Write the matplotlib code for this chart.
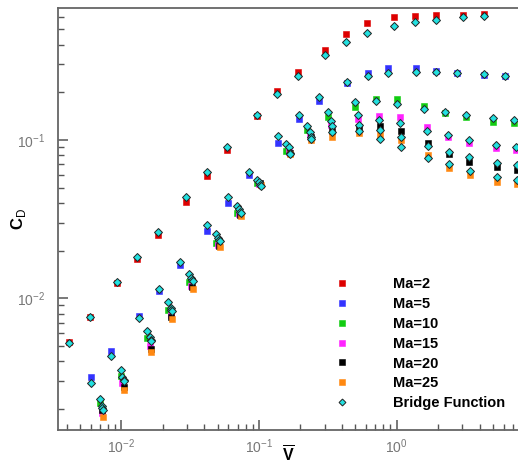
import matplotlib
matplotlib.use("Agg")
import matplotlib.pyplot as plt

plt.rcParams['font.family'] = 'Liberation Sans'
plt.rcParams['mathtext.fontset'] = 'custom'
plt.rcParams['mathtext.rm'] = 'Liberation Sans'
plt.rcParams['mathtext.bf'] = 'Liberation Sans:bold'
plt.rcParams['axes.unicode_minus'] = False

# ---- data (V bar, C_D, bridge function C_D) ----
v_ma2 = [0.00417, 0.0059, 0.00926, 0.0131, 0.0186, 0.0294, 0.0417, 0.0589, 0.0959, 0.135,
         0.191, 0.302, 0.426, 0.606, 0.956, 1.36, 1.92, 3.02, 4.28]
cd_ma2 = [0.0053, 0.00765, 0.0124, 0.0176, 0.025, 0.0404, 0.0595, 0.0861, 0.141, 0.203,
          0.268, 0.370, 0.467, 0.545, 0.600, 0.609, 0.618, 0.619, 0.627]
bf_ma2 = [0.0052, 0.00765, 0.0126, 0.0182, 0.0263, 0.0435, 0.0628, 0.0899, 0.143, 0.194,
          0.255, 0.346, 0.416, 0.472, 0.525, 0.554, 0.575, 0.596, 0.607]

v_ma5 = [0.006, 0.00846, 0.0134, 0.0188, 0.0267, 0.0421, 0.0597, 0.0846, 0.137, 0.194,
         0.274, 0.433, 0.616, 0.869, 1.37, 1.94, 2.74, 4.33, 6.15]
cd_ma5 = [0.0032, 0.00465, 0.00776, 0.0111, 0.0162, 0.0267, 0.0398, 0.0599, 0.0955, 0.135,
          0.176, 0.228, 0.266, 0.284, 0.284, 0.273, 0.264, 0.257, 0.254]
bf_ma5 = [0.00293, 0.00432, 0.00754, 0.0115, 0.017, 0.029, 0.0435, 0.0631, 0.1055, 0.143,
          0.186, 0.232, 0.253, 0.265, 0.268, 0.270, 0.264, 0.260, 0.255]

v_ma10 = [0.00695, 0.00987, 0.01545, 0.0219, 0.031, 0.049, 0.0696, 0.0962, 0.158, 0.224,
          0.317, 0.502, 0.708, 1.0, 1.58, 2.24, 3.17, 5.02, 7.11]
cd_ma10 = [0.00218, 0.00324, 0.00557, 0.00844, 0.0127, 0.0224, 0.0347, 0.0531, 0.0856, 0.116,
           0.140, 0.162, 0.182, 0.181, 0.164, 0.147, 0.139, 0.130, 0.128]
bf_ma10 = [0.0023, 0.00352, 0.00619, 0.00945, 0.0143, 0.0253, 0.0383, 0.0555, 0.0937, 0.123,
           0.150, 0.173, 0.176, 0.168, 0.157, 0.151, 0.144, 0.137, 0.133]

v_ma15 = [0.00718, 0.0102, 0.0162, 0.0228, 0.0321, 0.0504, 0.0719, 0.1, 0.164, 0.235,
          0.332, 0.524, 0.744, 1.06, 1.66, 2.35, 3.33, 5.26, 7.35]
cd_ma15 = [0.00189, 0.00293, 0.005, 0.00784, 0.012, 0.0216, 0.0339, 0.0524, 0.084, 0.107,
           0.1235, 0.136, 0.142, 0.139, 0.121, 0.105, 0.0955, 0.0893, 0.0861]
bf_ma15 = [0.00209, 0.0032, 0.00572, 0.00868, 0.0134, 0.0239, 0.0365, 0.0543, 0.0897, 0.112,
           0.131, 0.143, 0.134, 0.128, 0.114, 0.107, 0.100, 0.0933, 0.0907]

v_ma20 = [0.0073, 0.0104, 0.0164, 0.023, 0.0326, 0.0515, 0.0728, 0.1025, 0.1665, 0.237,
          0.339, 0.532, 0.756, 1.07, 1.70, 2.40, 3.35, 5.32, 7.45]
cd_ma20 = [0.00197, 0.00276, 0.00476, 0.00759, 0.0118, 0.0214, 0.0336, 0.0531, 0.0828, 0.104,
           0.1145, 0.121, 0.122, 0.1145, 0.0955, 0.0816, 0.0729, 0.0675, 0.0649]
bf_ma20 = [0.00203, 0.00305, 0.00545, 0.00837, 0.013, 0.0232, 0.0349, 0.0516, 0.0828, 0.105,
           0.122, 0.124, 0.116, 0.105, 0.0916, 0.084, 0.0781, 0.0716, 0.0695]

v_ma25 = [0.0074, 0.0105, 0.0165, 0.0232, 0.033, 0.0521, 0.0737, 0.1034, 0.169, 0.2385,
          0.339, 0.532, 0.756, 1.07, 1.70, 2.40, 3.38, 5.32, 7.45]
cd_ma25 = [0.00177, 0.00262, 0.00458, 0.00737, 0.0115, 0.021, 0.0331, 0.0516, 0.081, 0.1,
           0.105, 0.111, 0.108, 0.0996, 0.0804, 0.0668, 0.0598, 0.0543, 0.0524]
bf_ma25 = [0.00196, 0.00298, 0.00537, 0.00825, 0.0128, 0.0229, 0.0346, 0.0508, 0.081, 0.102,
           0.112, 0.1135, 0.1015, 0.0899, 0.0766, 0.0703, 0.0634, 0.0581, 0.0561]

labels = ['Ma=2', 'Ma=5', 'Ma=10', 'Ma=15', 'Ma=20', 'Ma=25']
colors = ['#dd0000', '#3333ff', '#11cc11', '#ff22ff', '#000000', '#ff8811']
series = [(v_ma2, cd_ma2, bf_ma2), (v_ma5, cd_ma5, bf_ma5), (v_ma10, cd_ma10, bf_ma10),
          (v_ma15, cd_ma15, bf_ma15), (v_ma20, cd_ma20, bf_ma20), (v_ma25, cd_ma25, bf_ma25)]

fig = plt.figure(figsize=(5.18, 4.66), dpi=100)
ax = fig.add_axes([0.112, 0.0773, 0.888, 0.9056])

for (v, cd, bf), lab, col in zip(series, labels, colors):
    ax.plot(v, cd, ls='none', marker='s', ms=4.6, mfc=col, mec=col, mew=0.4, label=lab, zorder=3)

for i, (v, cd, bf) in enumerate(series):
    ax.plot(v, bf, ls='none', marker='D', ms=3.9, mfc='#22e0e0', mec='#222222', mew=0.7,
            label='Bridge Function' if i == 0 else None, zorder=4)

ax.set_xscale('log')
ax.set_yscale('log')
ax.set_xlim(0.00347, 7.6)
ax.set_ylim(0.00147, 0.682)

for s in ['left', 'bottom', 'top']:
    ax.spines[s].set_color('#666666')
    ax.spines[s].set_linewidth(1.3)
ax.spines['right'].set_visible(False)

ax.tick_params(which='both', direction='in', color='#555555', labelcolor='#777777',
               top=False, right=False, labelsize=10)
ax.tick_params(which='major', length=7.5, width=1.1)
ax.tick_params(which='minor', length=4.3, width=1.0)
ax.tick_params(axis='y', which='both', pad=9)
ax.tick_params(axis='x', which='both', pad=5)

ax.set_xlabel(r'$\overline{\mathbf{V}}$', fontsize=11.5)
ax.set_ylabel(r'$\mathbf{C}_{\mathrm{D}}$', fontsize=12)
ax.xaxis.set_label_coords(0.5, -0.036)
ax.yaxis.set_label_coords(-0.066, 0.5)

leg = ax.legend(loc='upper left', bbox_to_anchor=(0.604, 0.362), frameon=False,
                borderpad=0, borderaxespad=0, handlelength=0.8, handletextpad=3.1,
                labelspacing=0.4, markerscale=0.9,
                prop={'weight': 'bold', 'size': 10.5})

fig.savefig('out.png', dpi=100)
